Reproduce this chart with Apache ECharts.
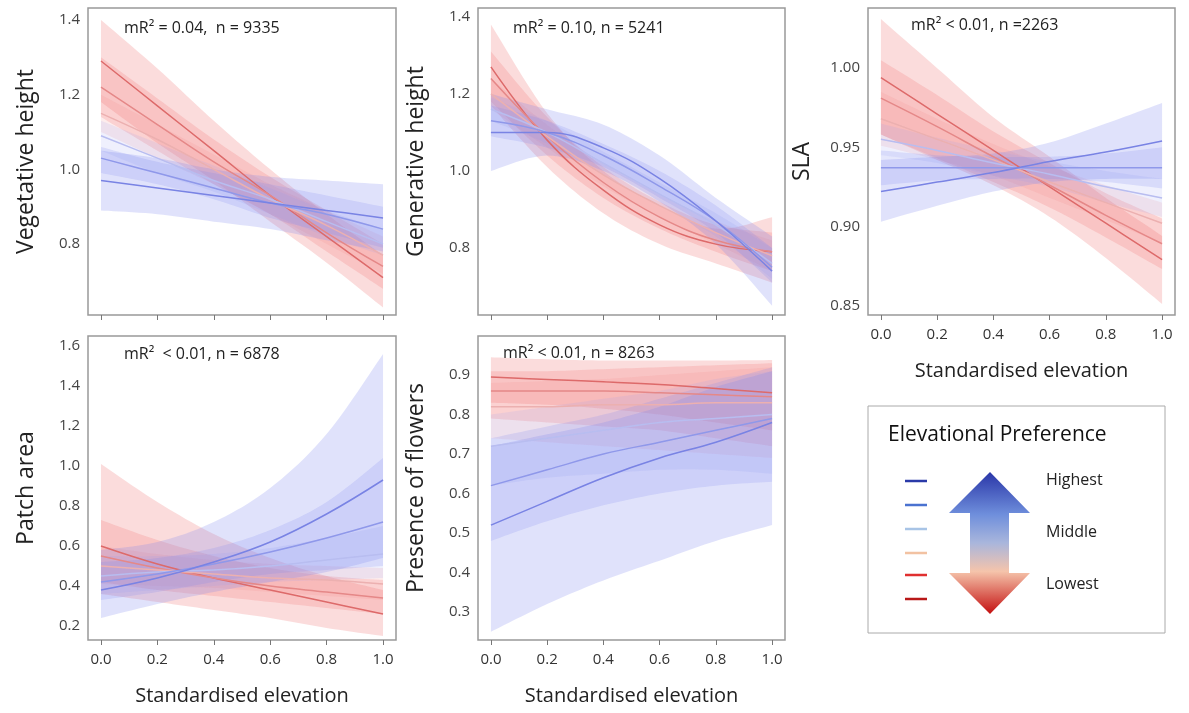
<!DOCTYPE html>
<html>
<head>
<meta charset="utf-8">
<script src="https://cdn.jsdelivr.net/npm/echarts@6/dist/echarts.min.js"></script>
<style>html,body{margin:0;background:#fff}#main{width:1189px;height:713px}</style>
</head>
<body>
<div id="main"></div>
<script>
// x positions of the fitted curves (standardised elevation)
const xs = [0, 0.2, 0.4, 0.6, 0.8, 1.0];
const xTicks = [0, 0.2, 0.4, 0.6, 0.8, 1.0];

// six elevational-preference groups, lowest (red) to highest (blue)
// each: mean, hi, lo at xs
const vegMean = [[1.29,1.17,1.05,0.93,0.82,0.71],[1.22,1.12,1.02,0.93,0.83,0.74],[1.15,1.08,1.00,0.92,0.85,0.77],[1.09,1.03,0.97,0.92,0.86,0.80],[1.03,0.99,0.95,0.91,0.88,0.84],[0.97,0.95,0.93,0.91,0.89,0.87]];
const vegHi = [[1.40,1.27,1.13,1.00,0.88,0.77],[1.30,1.19,1.08,0.98,0.89,0.80],[1.20,1.12,1.04,0.96,0.89,0.82],[1.13,1.07,1.01,0.95,0.89,0.84],[1.06,1.02,0.99,0.96,0.93,0.90],[1.05,1.03,1.00,0.98,0.97,0.96]];
const vegLo = [[1.18,1.07,0.97,0.86,0.75,0.63],[1.14,1.05,0.96,0.88,0.78,0.68],[1.10,1.03,0.96,0.88,0.80,0.72],[1.05,0.99,0.94,0.88,0.82,0.77],[0.99,0.96,0.92,0.87,0.83,0.79],[0.89,0.88,0.86,0.84,0.81,0.78]];

const genMean = [[1.27,1.08,0.95,0.86,0.81,0.79],[1.24,1.09,0.97,0.88,0.82,0.79],[1.20,1.09,0.99,0.91,0.84,0.78],[1.16,1.10,1.02,0.94,0.86,0.76],[1.13,1.10,1.04,0.96,0.87,0.75],[1.10,1.10,1.06,0.98,0.87,0.74]];
const genHi = [[1.38,1.15,1.00,0.91,0.85,0.88],[1.31,1.14,1.01,0.92,0.86,0.84],[1.24,1.12,1.02,0.94,0.87,0.82],[1.19,1.13,1.05,0.97,0.89,0.80],[1.17,1.13,1.07,1.00,0.91,0.80],[1.20,1.16,1.12,1.04,0.93,0.83]];
const genLo = [[1.17,1.01,0.89,0.81,0.76,0.71],[1.18,1.04,0.93,0.85,0.79,0.74],[1.16,1.06,0.96,0.88,0.81,0.74],[1.13,1.07,0.99,0.91,0.83,0.72],[1.09,1.06,1.01,0.93,0.84,0.71],[1.00,1.04,1.00,0.92,0.81,0.65]];

const slaMean = [[0.994,0.971,0.948,0.925,0.902,0.879],[0.981,0.963,0.944,0.926,0.907,0.889],[0.968,0.955,0.942,0.928,0.915,0.902],[0.955,0.948,0.940,0.933,0.925,0.918],[0.937,0.937,0.937,0.937,0.937,0.937],[0.922,0.928,0.934,0.941,0.947,0.954]];
const slaHi = [[1.031,1.000,0.969,0.944,0.918,0.894],[1.005,0.983,0.960,0.940,0.921,0.905],[0.985,0.968,0.952,0.938,0.926,0.915],[0.965,0.956,0.948,0.941,0.935,0.930],[0.948,0.945,0.944,0.944,0.946,0.950],[0.942,0.944,0.946,0.953,0.965,0.978]];
const slaLo = [[0.958,0.942,0.926,0.906,0.880,0.851],[0.958,0.943,0.928,0.912,0.893,0.873],[0.951,0.942,0.932,0.918,0.904,0.889],[0.945,0.940,0.932,0.925,0.915,0.906],[0.926,0.929,0.930,0.930,0.928,0.924],[0.903,0.913,0.922,0.928,0.930,0.930]];

const patchMean = [[0.60,0.51,0.44,0.38,0.32,0.26],[0.55,0.49,0.44,0.40,0.37,0.34],[0.50,0.48,0.46,0.44,0.43,0.41],[0.45,0.47,0.48,0.50,0.53,0.56],[0.42,0.46,0.51,0.57,0.64,0.72],[0.38,0.44,0.52,0.62,0.76,0.93]];
const patchHi = [[1.01,0.82,0.66,0.54,0.45,0.38],[0.73,0.63,0.55,0.49,0.45,0.43],[0.60,0.56,0.53,0.51,0.50,0.49],[0.55,0.55,0.56,0.59,0.64,0.70],[0.52,0.54,0.59,0.68,0.82,1.04],[0.58,0.62,0.72,0.89,1.16,1.56]];
const patchLo = [[0.36,0.32,0.28,0.24,0.19,0.15],[0.42,0.38,0.35,0.32,0.29,0.26],[0.41,0.40,0.39,0.37,0.35,0.33],[0.36,0.38,0.40,0.42,0.43,0.44],[0.33,0.37,0.42,0.46,0.48,0.50],[0.24,0.31,0.37,0.42,0.47,0.54]];

const flowMean = [[0.895,0.889,0.883,0.876,0.866,0.855],[0.86,0.86,0.86,0.855,0.85,0.845],[0.82,0.82,0.825,0.825,0.83,0.83],[0.72,0.74,0.76,0.78,0.79,0.80],[0.62,0.66,0.70,0.73,0.76,0.79],[0.52,0.58,0.64,0.69,0.73,0.78]];
const flowHi = [[0.945,0.940,0.937,0.937,0.937,0.938],[0.91,0.91,0.915,0.92,0.925,0.93],[0.88,0.885,0.89,0.90,0.91,0.92],[0.80,0.82,0.84,0.86,0.89,0.91],[0.74,0.77,0.80,0.84,0.88,0.92],[0.72,0.75,0.78,0.82,0.87,0.91]];
const flowLo = [[0.830,0.825,0.815,0.800,0.780,0.760],[0.79,0.78,0.77,0.76,0.74,0.72],[0.74,0.73,0.72,0.71,0.70,0.69],[0.62,0.64,0.65,0.66,0.66,0.65],[0.48,0.53,0.57,0.60,0.62,0.63],[0.25,0.32,0.38,0.43,0.48,0.52]];

const lineColors = ['#dd6a6a', '#e58888', '#ecb0b0', '#b8bdf0', '#8f98ea', '#7983e4'];
const bandColors = ['rgba(240,110,110,0.24)', 'rgba(240,110,110,0.22)', 'rgba(240,130,130,0.15)',
                    'rgba(150,155,240,0.15)', 'rgba(125,135,240,0.2)', 'rgba(125,135,240,0.24)'];

const panels = [
  {name: 'Vegetative height', mean: vegMean, hi: vegHi, lo: vegLo, min: 0.61, max: 1.432, yTicks: [0.8,1.0,1.2,1.4], dec: 1,
   grid: {left: 88, top: 8, width: 308, height: 307}, xLabels: false, note: 'mR² = 0.04,  n = 9335', noteX: 124, noteY: 31},
  {name: 'Generative height', mean: genMean, hi: genHi, lo: genLo, min: 0.626, max: 1.423, yTicks: [0.8,1.0,1.2,1.4], dec: 1,
   grid: {left: 478, top: 8, width: 307, height: 307}, xLabels: false, note: 'mR² = 0.10, n = 5241', noteX: 513, noteY: 31},
  {name: 'SLA', mean: slaMean, hi: slaHi, lo: slaLo, min: 0.844, max: 1.038, yTicks: [0.85,0.90,0.95,1.00], dec: 2,
   grid: {left: 868, top: 8, width: 307, height: 307}, xLabels: true, note: 'mR² < 0.01, n =2263', noteX: 911, noteY: 28},
  {name: 'Patch area', mean: patchMean, hi: patchHi, lo: patchLo, min: 0.13, max: 1.65, yTicks: [0.2,0.4,0.6,0.8,1.0,1.2,1.4,1.6], dec: 1,
   grid: {left: 88, top: 336, width: 308, height: 304}, xLabels: true, note: 'mR²  < 0.01, n = 6878', noteX: 124, noteY: 357},
  {name: 'Presence of flowers', mean: flowMean, hi: flowHi, lo: flowLo, min: 0.229, max: 0.999, yTicks: [0.3,0.4,0.5,0.6,0.7,0.8,0.9], dec: 1,
   grid: {left: 478, top: 336, width: 307, height: 304}, xLabels: true, note: 'mR² < 0.01, n = 8263', noteX: 503, noteY: 356}
];

// Catmull-Rom subdivision of pixel points so the band edges follow the smooth lines
function smoothPts(pts) {
  const out = [];
  for (let i = 0; i < pts.length - 1; i++) {
    const p0 = pts[Math.max(i - 1, 0)], p1 = pts[i], p2 = pts[i + 1], p3 = pts[Math.min(i + 2, pts.length - 1)];
    for (let s = 0; s < 10; s++) {
      const t = s / 10, t2 = t * t, t3 = t2 * t;
      out.push([0, 1].map(d => 0.5 * (2 * p1[d] + (-p0[d] + p2[d]) * t +
        (2 * p0[d] - 5 * p1[d] + 4 * p2[d] - p3[d]) * t2 + (-p0[d] + 3 * p1[d] - 3 * p2[d] + p3[d]) * t3)));
    }
  }
  out.push(pts[pts.length - 1]);
  return out;
}

const font = 'Open Sans';
const grids = [], xAxes = [], yAxes = [], series = [], graphics = [];

panels.forEach((p, k) => {
  grids.push(Object.assign({show: true, borderColor: '#999', borderWidth: 1.5, backgroundColor: 'transparent'}, p.grid));
  xAxes.push({
    type: 'value', gridIndex: k, min: -0.046, max: 1.046,
    name: p.xLabels ? 'Standardised elevation' : '', nameLocation: 'middle', nameGap: 46,
    nameTextStyle: {fontFamily: font, fontSize: 20, color: '#222'},
    axisLine: {show: false}, splitLine: {show: false},
    axisTick: {show: true, customValues: xTicks, length: 5, lineStyle: {color: '#777'}},
    axisLabel: {show: p.xLabels, customValues: xTicks, formatter: v => v.toFixed(1), fontFamily: font, fontSize: 15, color: '#333', margin: 12}
  });
  yAxes.push({
    type: 'value', gridIndex: k, min: p.min, max: p.max,
    name: p.name, nameLocation: 'middle', nameGap: k === 2 ? 54 : 50,
    nameTextStyle: {fontFamily: font, fontSize: 23, color: '#222'},
    axisLine: {show: false}, splitLine: {show: false}, axisTick: {show: false},
    axisLabel: {customValues: p.yTicks, formatter: v => v.toFixed(p.dec), fontFamily: font, fontSize: 15, color: '#444', margin: 8}
  });
  for (let i = 0; i < 6; i++) {
    const rows = xs.map((x, j) => [x, p.lo[i][j], p.hi[i][j]]);
    series.push({
      type: 'custom', xAxisIndex: k, yAxisIndex: k, silent: true, z: 1,
      clip: true, data: [0],
      renderItem: (params, api) => {
        const up = smoothPts(rows.map(r => api.coord([r[0], r[2]])));
        const dn = smoothPts(rows.map(r => api.coord([r[0], r[1]]))).reverse();
        return {type: 'polygon', shape: {points: up.concat(dn)}, style: {fill: bandColors[i]},
          clipPath: {type: 'rect', shape: {x: params.coordSys.x, y: params.coordSys.y, width: params.coordSys.width, height: params.coordSys.height}}};
      }
    });
  }
  for (let i = 0; i < 6; i++) {
    series.push({
      type: 'line', xAxisIndex: k, yAxisIndex: k, smooth: 0.4, symbol: 'none', silent: true, z: 3,
      lineStyle: {color: lineColors[i], width: 1.5}, data: xs.map((x, j) => [x, p.mean[i][j]])
    });
  }
  graphics.push({type: 'text', left: p.noteX, top: p.noteY - 11,
    style: {text: p.note, fontFamily: font, fontSize: 16, fill: '#222'}});
});

// legend panel
const legendColors = ['#2a3aa8', '#4a72d0', '#a8c4e6', '#f2c2a2', '#e03030', '#b81818'];
graphics.push({type: 'rect', shape: {x: 868, y: 406, width: 297, height: 227}, style: {fill: '#fff', stroke: '#aaa', lineWidth: 1}});
graphics.push({type: 'text', left: 888, top: 425, style: {text: 'Elevational Preference', fontFamily: font, fontSize: 21, fill: '#111'}});
legendColors.forEach((c, i) => {
  const y = [481, 505, 529, 553, 575, 599][i];
  graphics.push({type: 'line', shape: {x1: 905, y1: y, x2: 927, y2: y}, style: {stroke: c, lineWidth: 2.5}});
});
graphics.push({type: 'polygon',
  shape: {points: [[990,472],[1030,513],[1009,513],[1009,573],[1030,573],[990,614],[949,573],[970,573],[970,513],[949,513]]},
  style: {fill: new echarts.graphic.LinearGradient(0, 0, 0, 1, [
    {offset: 0, color: '#2a36a8'}, {offset: 0.3, color: '#6f8fdc'}, {offset: 0.5, color: '#a9b6dc'},
    {offset: 0.7, color: '#f5c4ab'}, {offset: 1, color: '#c41010'}])}});
[['Highest', 483], ['Middle', 535], ['Lowest', 587]].forEach(([t, y]) => {
  graphics.push({type: 'text', left: 1046, top: y - 11, style: {text: t, fontFamily: font, fontSize: 16, fill: '#222'}});
});

const chart = echarts.init(document.getElementById('main'));
chart.setOption({animation: false, grid: grids, xAxis: xAxes, yAxis: yAxes, series: series, graphic: graphics});
</script>
</body>
</html>
